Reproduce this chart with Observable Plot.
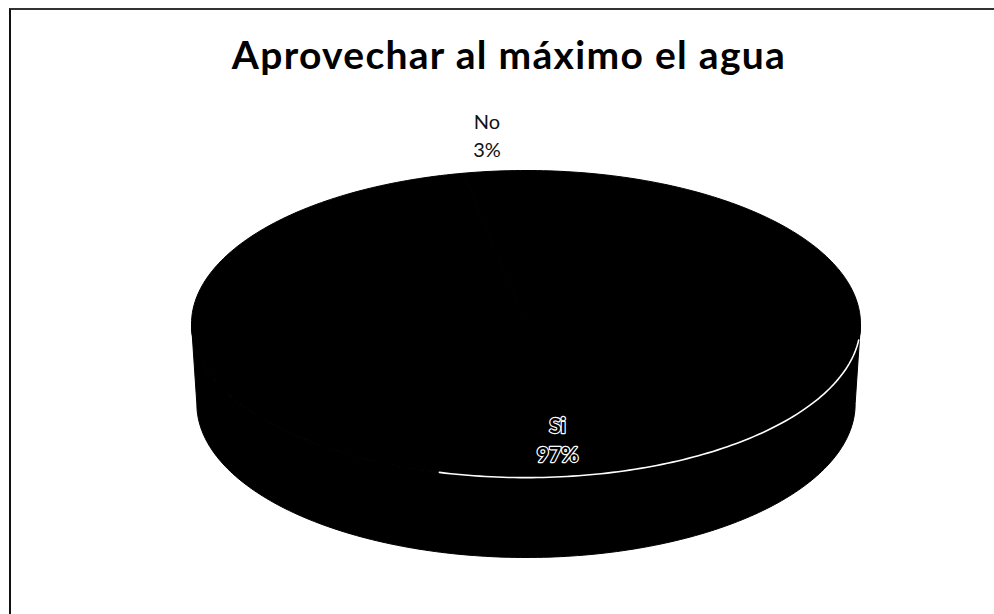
<!DOCTYPE html>
<html>
<head>
<meta charset="utf-8">
<script src="https://cdn.jsdelivr.net/npm/d3@7"></script>
<script src="https://cdn.jsdelivr.net/npm/@observablehq/plot@0.6"></script>
<style>
  html, body { margin: 0; padding: 0; background: #fff; width: 994px; height: 614px; overflow: hidden; }
  #frame { position: absolute; left: 9px; top: 8px; width: 1200px; height: 900px;
           border-left: 2px solid #111; border-top: 2px solid #333; }
  #chart { position: absolute; left: 0; top: 0; }
  #title { position: absolute; left: 0; width: 1018px; top: 31px; text-align: center;
           font: bold 39px/1.2 Lato, sans-serif; letter-spacing: 1.3px; color: #000; }
</style>
</head>
<body>
<div id="frame"></div>
<div id="chart"></div>
<div id="title">Aprovechar al máximo el agua</div>
<script>
// Survey answers
const categories = ["Si", "No"];
const values = [97, 3];
const percentLabels = ["97%", "3%"];

// 3D pie shape (unit circle, tilted)
const depth = 0.52;       // height of the side wall, in radius units
const baseScale = 0.984;  // bottom rim is slightly narrower (perspective)
const TAU = 2 * Math.PI;

const total = d3.sum(values);
let acc = 0;
const slices = categories.map((c, i) => {
  const a0 = acc / total * TAU;
  acc += values[i];
  const a1 = acc / total * TAU;
  return { key: c, value: values[i], pct: percentLabels[i], a0, a1, mid: (a0 + a1) / 2 };
});

const arc = (a0, a1) => {
  const n = Math.max(2, Math.ceil((a1 - a0) / TAU * 360));
  return d3.range(n + 1).map(j => a0 + (a1 - a0) * j / n);
};

// top faces: sector polygons
const topPts = slices.flatMap(s => [
  { key: s.key, x: 0, y: 0 },
  ...arc(s.a0, s.a1).map(t => ({ key: s.key, x: Math.sin(t), y: Math.cos(t) })),
  { key: s.key, x: 0, y: 0 }
]);

// front side walls (the half of the rim facing the viewer)
const sidePts = slices.flatMap(s => {
  const b0 = Math.max(s.a0, Math.PI / 2), b1 = Math.min(s.a1, 3 * Math.PI / 2);
  if (b1 <= b0) return [];
  const ts = arc(b0, b1);
  return [
    ...ts.map(t => ({ key: s.key, x: Math.sin(t), y: Math.cos(t) })),
    ...ts.slice().reverse().map(t => ({ key: s.key, x: baseScale * Math.sin(t), y: Math.cos(t) - depth }))
  ];
});

// light edge along the front of the top face
const rim = arc(96 / 360 * TAU, 195 / 360 * TAU).map(t => ({ x: Math.sin(t), y: Math.cos(t) }));

// data labels: small slices outside, large slices inside
const labels = slices.map(s => {
  const outside = s.value / total < 0.1;
  const r = outside ? 1.24 : 0.78;
  return { ...s, outside, x: r * Math.sin(s.mid), y: r * Math.cos(s.mid), text: `${s.key}\n${s.pct}` };
});

const chart = Plot.plot({
  width: 994,
  height: 614,
  marginLeft: 191,
  marginRight: 134,
  marginTop: 170,
  marginBottom: 57,
  x: { domain: [-1, 1], axis: null },
  y: { domain: [-1 - depth, 1], axis: null },
  style: { background: "transparent" },
  marks: [
    Plot.line(sidePts, { x: "x", y: "y", z: "key", fill: "#000", stroke: "#000", strokeWidth: 1, curve: "linear-closed" }),
    Plot.line(topPts, { x: "x", y: "y", z: "key", fill: "#000", stroke: "#000", strokeWidth: 1, curve: "linear-closed" }),
    Plot.line(rim, { x: "x", y: "y", stroke: "#fff", strokeWidth: 1.6 }),
    Plot.text(labels.filter(d => d.outside), {
      x: "x", y: "y", text: "text", fill: "#111", fontSize: 20, lineHeight: 1.4,
      fontFamily: "Lato, sans-serif"
    }),
    Plot.text(labels.filter(d => !d.outside), {
      x: "x", y: "y", text: "text", fill: "#000", stroke: "#fff", strokeWidth: 2.4,
      paintOrder: "stroke", fontSize: 21, lineHeight: 1.4, fontWeight: "bold",
      fontFamily: "Lato, sans-serif", dx: 7, dy: -5
    })
  ]
});
document.getElementById("chart").appendChild(chart);
</script>
</body>
</html>
